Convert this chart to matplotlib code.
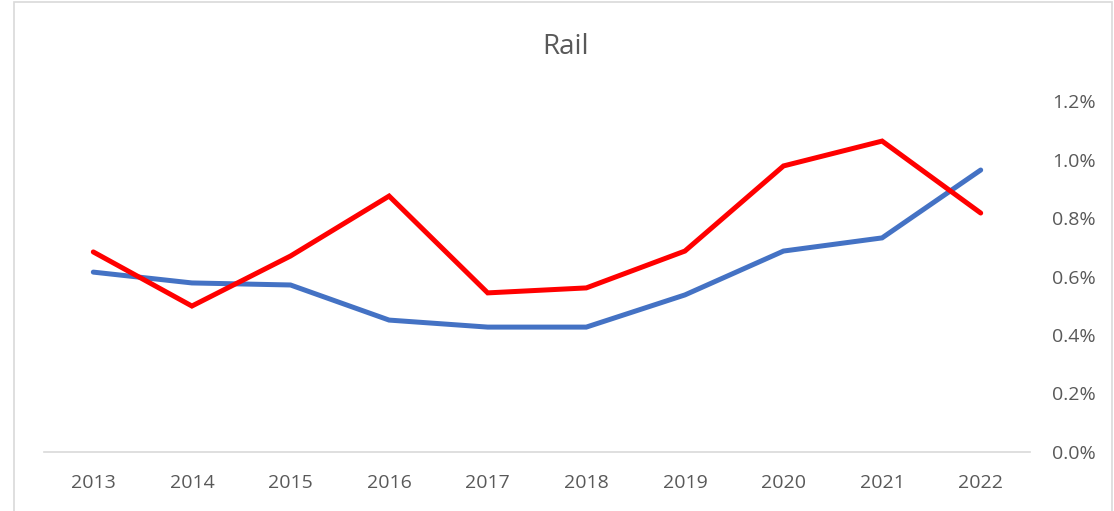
import matplotlib.pyplot as plt
from matplotlib.patches import Rectangle
from matplotlib.ticker import FuncFormatter

years = ['2013', '2014', '2015', '2016', '2017', '2018', '2019', '2020', '2021', '2022']
blue = [0.615, 0.578, 0.571, 0.451, 0.427, 0.427, 0.537, 0.687, 0.732, 0.964]
red = [0.684, 0.499, 0.670, 0.875, 0.544, 0.561, 0.687, 0.978, 1.063, 0.817]

plt.rcParams['font.family'] = ['Open Sans', 'DejaVu Sans']

W, H = 1114, 511
fig = plt.figure(figsize=(W / 100, H / 100), dpi=100)
ax = fig.add_axes([44 / W, 1 - 452 / H, (1030 - 44) / W, (452 - 101) / H])

x = range(len(years))
ax.plot(x, blue, color='#4472C4', lw=3.6, solid_capstyle='round', solid_joinstyle='miter')
ax.plot(x, red, color='#FF0000', lw=3.6, solid_capstyle='round', solid_joinstyle='miter')

ax.set_xlim(-0.5, len(years) - 0.5)
ax.set_ylim(0, 1.2)
ax.set_xticks(list(x))
ax.set_xticklabels(years)
ax.set_yticks([0, 0.2, 0.4, 0.6, 0.8, 1.0, 1.2])
ax.yaxis.set_major_formatter(FuncFormatter(lambda v, p: '%.1f%%' % v))
ax.yaxis.tick_right()

for s in ['top', 'left', 'right']:
    ax.spines[s].set_visible(False)
ax.spines['bottom'].set_color('#D9D9D9')
ax.spines['bottom'].set_linewidth(1.2)
ax.tick_params(axis='both', length=0, colors='#595959', labelsize=14)
ax.tick_params(axis='x', pad=16)
ax.tick_params(axis='y', pad=16)

fig.text(566 / W, 1 - 47 / H, 'Rail', ha='center', va='center', fontsize=20, color='#595959')

fig.patches.append(Rectangle((14 / W, -0.01), (1112 - 14) / W, 1 - 2 / H + 0.01,
                             transform=fig.transFigure, fill=False,
                             edgecolor='#D9D9D9', lw=1.2))

fig.savefig('out.png', dpi=100)
